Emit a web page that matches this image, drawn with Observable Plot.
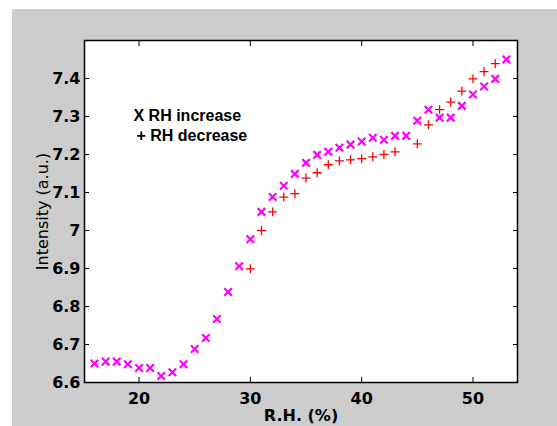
<!DOCTYPE html>
<html>
<head>
<meta charset="utf-8">
<script src="https://cdn.jsdelivr.net/npm/d3@7"></script>
<script src="https://cdn.jsdelivr.net/npm/@observablehq/plot@0.6"></script>
<style>
  html, body { margin: 0; padding: 0; background: #ffffff; }
  #figure { position: relative; width: 557px; height: 426px; overflow: hidden; }
  #figure .panel { position: absolute; left: 12px; top: 9px; right: 0; bottom: 0; background: #cccccc; }
  #figure svg { position: absolute; left: 0; top: 0; }
</style>
</head>
<body>
<div id="figure"><div class="panel"></div></div>
<script>
// Relative humidity (%) and measured intensity (a.u.), humidity rising
const rhIncrease = [16, 17, 18, 19, 20, 21, 22, 23, 24, 25, 26, 27, 28, 29, 30, 31, 32, 33, 34,
  35, 36, 37, 38, 39, 40, 41, 42, 43, 44, 45, 46, 47, 48, 49, 50, 51, 52, 53];
const intensityIncrease = [6.650, 6.655, 6.655, 6.648, 6.638, 6.638, 6.617, 6.627, 6.648, 6.688,
  6.717, 6.767, 6.838, 6.906, 6.977, 7.049, 7.088, 7.118, 7.149, 7.178, 7.199, 7.207, 7.218,
  7.226, 7.234, 7.244, 7.239, 7.249, 7.249, 7.289, 7.318, 7.297, 7.297, 7.328, 7.358, 7.379,
  7.399, 7.450];

// Humidity falling
const rhDecrease = [30, 31, 32, 33, 34, 35, 36, 37, 38, 39, 40, 41, 42, 43, 45, 46, 47, 48, 49,
  50, 51, 52];
const intensityDecrease = [6.899, 7.000, 7.049, 7.088, 7.097, 7.138, 7.152, 7.173, 7.183, 7.186,
  7.189, 7.194, 7.200, 7.207, 7.228, 7.278, 7.318, 7.338, 7.367, 7.399, 7.418, 7.439];

// Axis ticks
const xTicks = [20, 30, 40, 50];
const yTicks = [6.6, 6.7, 6.8, 6.9, 7.0, 7.1, 7.2, 7.3, 7.4];
const yTickLabels = ["6.6", "6.7", "6.8", "6.9", "7", "7.1", "7.2", "7.3", "7.4"];

const increase = rhIncrease.map((rh, i) => ({rh, intensity: intensityIncrease[i]}));
const decrease = rhDecrease.map((rh, i) => ({rh, intensity: intensityDecrease[i]}));

const axisFont = {fontFamily: "DejaVu Sans", fontSize: 16, fontWeight: "bold"};
const noteFont = {fontFamily: "Liberation Sans", fontSize: 16, fontWeight: "bold"};

const chart = Plot.plot({
  width: 557,
  height: 426,
  marginLeft: 84,
  marginRight: 40,
  marginTop: 40,
  marginBottom: 44,
  style: {background: "transparent", overflow: "visible", color: "black"},
  x: {domain: [15.1, 54], label: null},
  y: {domain: [6.6, 7.5], label: null},
  marks: [
    Plot.frame({fill: "white"}),
    Plot.dot(increase, {x: "rh", y: "intensity", symbol: "times", r: 3.5,
      stroke: "#ff00ff", strokeWidth: 2.2}),
    Plot.dot(decrease, {x: "rh", y: "intensity", symbol: "plus", r: 3,
      stroke: "#ff0000", strokeWidth: 1.3}),
    Plot.frame({stroke: "black", strokeWidth: 1.5}),
    Plot.axisX(xTicks, {anchor: "bottom", tickSize: -5, tickPadding: 15, label: null, ...axisFont}),
    Plot.axisX(xTicks, {anchor: "top", tickSize: -5, tickFormat: () => "", label: null}),
    Plot.axisY(yTicks, {anchor: "left", tickSize: -5, tickPadding: 9, label: null,
      tickFormat: d => yTickLabels[yTicks.indexOf(d)], ...axisFont}),
    Plot.axisY(yTicks, {anchor: "right", tickSize: -5, tickFormat: () => "", label: null}),
    // Axis titles
    Plot.text(["R.H. (%)"], {frameAnchor: "bottom", dy: 33, textAnchor: "middle",
      lineAnchor: "middle", ...axisFont}),
    Plot.text(["Intensity (a.u.)"], {frameAnchor: "left", dx: -42, rotate: -90,
      textAnchor: "middle", lineAnchor: "middle", fontFamily: "DejaVu Sans", fontSize: 16}),
    // In-plot key
    Plot.text(["X RH increase"], {frameAnchor: "top-left", dx: 49, dy: 75, textAnchor: "start",
      lineAnchor: "middle", ...noteFont}),
    Plot.text(["+ RH decrease"], {frameAnchor: "top-left", dx: 52, dy: 95, textAnchor: "start",
      lineAnchor: "middle", ...noteFont})
  ]
});

document.getElementById("figure").appendChild(chart);
</script>
</body>
</html>
